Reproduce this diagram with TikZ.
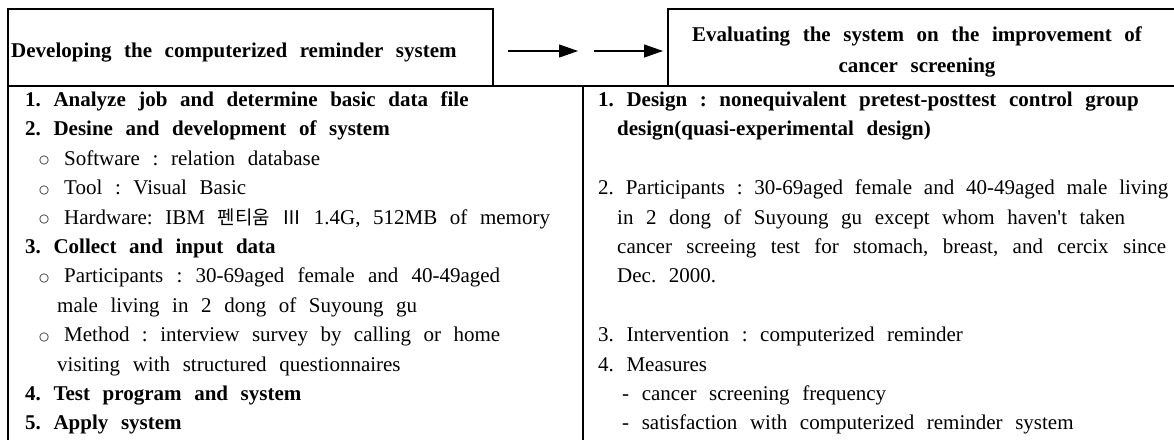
\documentclass[tikz,border=0pt]{standalone}
\usepackage{fontspec}
\setmainfont{Liberation Serif}
\newfontfamily\qfont{Liberation Serif}
\newfontfamily\krfont[Scale=0.9]{Noto Sans CJK KR}
\newfontfamily\dvfont{DejaVu Sans}
\usetikzlibrary{arrows.meta}
\newcommand{\tsz}{\fontsize{21pt}{25pt}\selectfont\frenchspacing\spaceskip=0.6em plus 2em minus 0.2em\relax}
\newcommand{\bul}{\makebox[25pt][l]{\raisebox{1.5pt}{\dvfont\fontsize{11.5pt}{11.5pt}\selectfont ○}}}
\newcommand{\jbox}[2]{\makebox[#1][s]{#2}}
\newcommand{\apos}{{\qfont '}}
\begin{document}
\begin{tikzpicture}[x=1pt,y=-1pt,
  frame/.style={line width=1.2pt, line cap=rect},
  arr/.style={line width=1.1pt, -{Triangle[length=19pt,width=13pt]}},
  txt/.style={anchor=base west, inner sep=0pt, font=\tsz},
  btxt/.style={anchor=base west, inner sep=0pt, font=\tsz\bfseries},
  htxt/.style={anchor=base, inner sep=0pt, font=\tsz\bfseries}]
\useasboundingbox (0,0) rectangle (1174,439);
\fill[white] (0,0) rectangle (1174,439);
% frame
\draw[frame] (8,445) -- (8,9) -- (493,9) -- (493,86);
\draw[frame] (668,86) -- (668,9) -- (1180,9);
\draw[frame] (8,86) -- (1180,86);
\draw[frame] (583,86) -- (583,445);
% headers
\node[btxt] (hl) at (11,57.5) {Developing the computerized reminder system};
\node[htxt] (hr1) at (917,41) {Evaluating the system on the improvement of};
\node[htxt] (hr2) at (917,72) {cancer screening};
% arrows
\coordinate (a1s) at (508,51);
\coordinate (a1e) at (578,51);
\coordinate (a2s) at (594,51);
\coordinate (a2e) at (663,51);
\draw[arr] (a1s) -- (a1e);
\draw[arr] (a2s) -- (a2e);
% left column
\node[btxt] (l1) at (25,106.5) {1. Analyze job and determine basic data file};
\node[btxt] (l2) at (25,135.9) {2. Desine and development of system};
\node[txt] (l3) at (39,165.3) {\bul Software : relation database};
\node[txt] (l4) at (39,194.7) {\bul Tool : Visual Basic};
\node[txt] (l5) at (39,224.1) {\bul Hardware: IBM {\krfont 펜티움} {\krfont Ⅲ} 1.4G, 512MB of memory};
\node[btxt] (l6) at (25,253.5) {3. Collect and input data};
\node[txt] (l7) at (39,282.9) {\bul\jbox{436pt}{Participants : 30-69aged female and 40-49aged}};
\node[txt] (l8) at (57,312.3) {male living in 2 dong of Suyoung gu};
\node[txt] (l9) at (39,341.7) {\bul\jbox{436pt}{Method : interview survey by calling or home}};
\node[txt] (l10) at (57,371.1) {visiting with structured questionnaires};
\node[btxt] (l11) at (25,400.5) {4. Test program and system};
\node[btxt] (l12) at (25,429.9) {5. Apply system};
% right column
\node[btxt] (r1) at (598,106.5) {1. Design : nonequivalent pretest-posttest control group};
\node[btxt] (r2) at (617,135.9) {design(quasi-experimental design)};
\node[txt] (r4) at (598,194.7) {\jbox{570pt}{2. Participants : 30-69aged female and 40-49aged male living}};
\node[txt] (r5) at (617,224.1) {in 2 dong of Suyoung gu except whom haven\apos t taken};
\node[txt] (r6) at (617,253.5) {\jbox{549pt}{cancer screeing test for stomach, breast, and cercix since}};
\node[txt] (r7) at (617,282.9) {Dec. 2000.};
\node[txt] (r9) at (598,341.7) {3. Intervention : computerized reminder};
\node[txt] (r10) at (598,371.1) {4. Measures};
\node[txt] (r11) at (622,400.5) {- cancer screening frequency};
\node[txt] (r12) at (622,429.9) {- satisfaction with computerized reminder system};
\end{tikzpicture}
\end{document}
